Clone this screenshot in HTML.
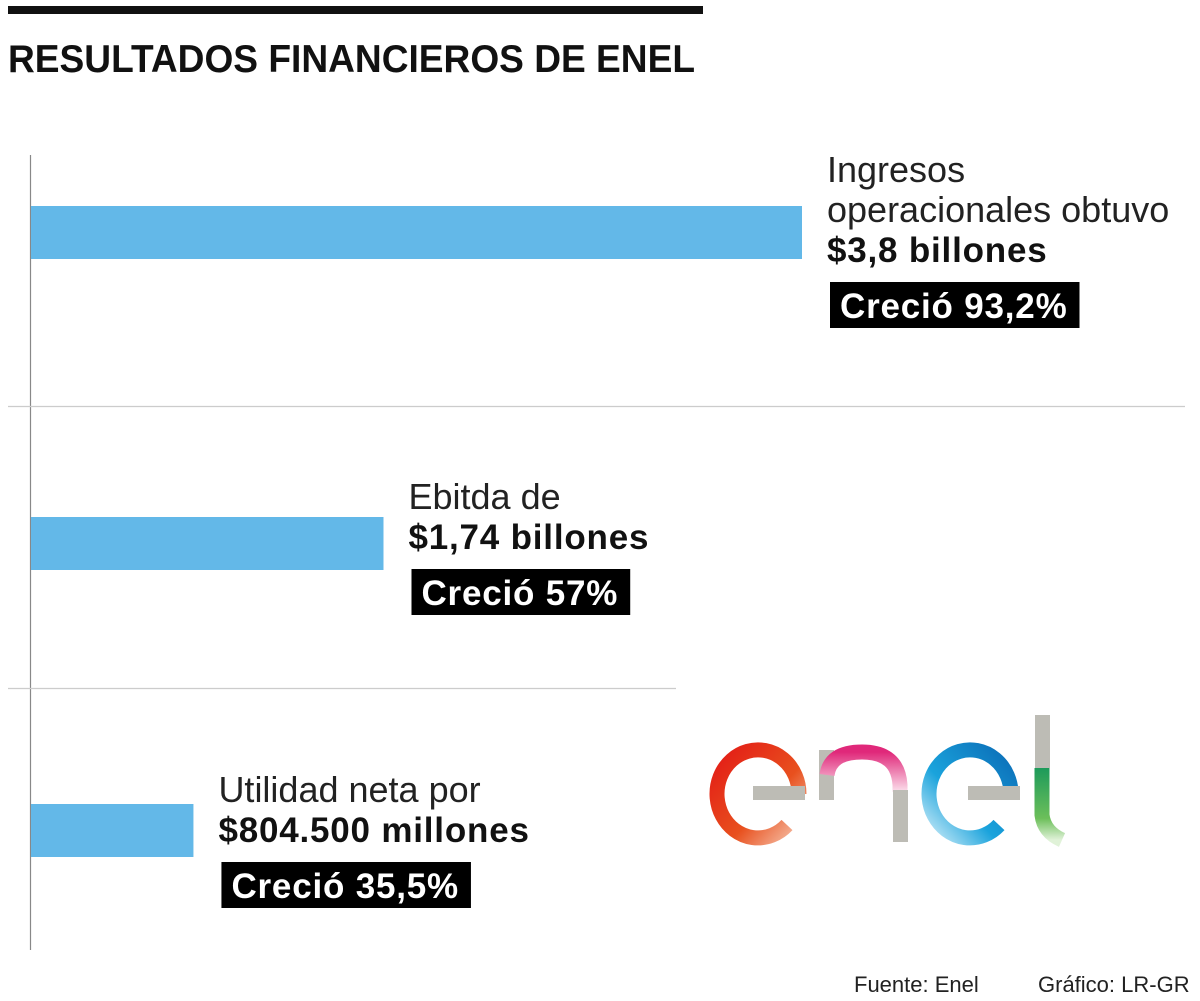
<!DOCTYPE html>
<html><head><meta charset="utf-8"><style>
html,body{margin:0;padding:0;background:#fff;}
svg{display:block;font-family:"Liberation Sans",sans-serif;}
</style></head><body>
<svg id="chart" width="1200" height="1001" viewBox="0 0 1200 1001">
<rect x="8" y="6" width="695" height="8" fill="#111"/>
<text x="8" y="72" font-size="39" font-weight="bold" fill="#111" textLength="687" lengthAdjust="spacingAndGlyphs">RESULTADOS FINANCIEROS DE ENEL</text>
<line x1="30.5" y1="155" x2="30.5" y2="950" stroke="#888" stroke-width="1.2"/>
<line x1="8" y1="406.5" x2="1185" y2="406.5" stroke="#ccc" stroke-width="1.2"/>
<line x1="8" y1="688.5" x2="676" y2="688.5" stroke="#ccc" stroke-width="1.2"/>
<g id="bars"></g>
<g>
  <defs>
    <linearGradient id="gr" x1="0" y1="0" x2="1" y2="1"><stop offset="0" stop-color="#e31b16"/><stop offset="0.6" stop-color="#e8501e"/><stop offset="1" stop-color="#f6c1a8"/></linearGradient>
    <linearGradient id="gp" x1="0" y1="0" x2="0" y2="1"><stop offset="0" stop-color="#e0287a"/><stop offset="1" stop-color="#fbe0ec"/></linearGradient>
    <linearGradient id="gb" x1="1" y1="0" x2="0" y2="1"><stop offset="0" stop-color="#0b6db7"/><stop offset="0.6" stop-color="#1aa3dc"/><stop offset="1" stop-color="#c9ebf8"/></linearGradient>
    <linearGradient id="gg" x1="0" y1="0" x2="0" y2="1"><stop offset="0" stop-color="#1d9a5a"/><stop offset="0.7" stop-color="#6cbf5a"/><stop offset="1" stop-color="#e0f2d8"/></linearGradient>
  </defs>
  <path d="M799 794 A41 44 0 1 0 787 825" fill="none" stroke="url(#gr)" stroke-width="15"/>
  <rect x="753" y="786" width="52" height="14" fill="#bdbcb5"/>
  <rect x="819" y="750" width="15" height="50" fill="#bdbcb5"/>
  <path d="M827 775 Q830 752 862 752 Q898 752 900 785 L900 792" fill="none" stroke="url(#gp)" stroke-width="15"/>
  <rect x="893" y="790" width="15" height="52" fill="#bdbcb5"/>
  <path d="M1011 794 A41 44 0 1 0 999 825" fill="none" stroke="url(#gb)" stroke-width="15"/>
  <rect x="968" y="786" width="52" height="14" fill="#bdbcb5"/>
  <rect x="1035" y="715" width="15" height="53" fill="#bdbcb5"/>
  <path d="M1042 768 L1042 815 Q1044 832 1062 840" fill="none" stroke="url(#gg)" stroke-width="15"/>
</g>
<text x="854" y="992" font-size="22" fill="#222">Fuente: Enel</text>
<text x="1038" y="992" font-size="22" fill="#222">Gráfico: LR-GR</text>
</svg>
<script>
const categories = ["Ingresos operacionales", "Ebitda", "Utilidad neta"];
const values = [3.8, 1.74, 0.8045];
const labelLines = [["Ingresos","operacionales obtuvo"],["Ebitda de"],["Utilidad neta por"]];
const valueLabels = ["$3,8 billones","$1,74 billones","$804.500 millones"];
const growthLabels = ["Creció 93,2%","Creció 57%","Creció 35,5%"];

const NS = "http://www.w3.org/2000/svg";
const x0 = 30, pxPerUnit = 772 / 3.8;
const barTops = [206, 517, 804], barH = 53;
const labelDy = [56, 32, 38];
const xScale = v => x0 + v * pxPerUnit;
const g = document.getElementById("bars");
function mk(tag, attrs){const e=document.createElementNS(NS,tag);for(const k in attrs)e.setAttribute(k,attrs[k]);g.appendChild(e);return e;}
function tw(t,size,bold,ls){const e=mk("text",{x:-1000,y:-1000,"font-size":size,"font-weight":bold?"bold":"normal","letter-spacing":ls});e.textContent=t;const w=e.getComputedTextLength();e.remove();return w;}
categories.forEach((c,i)=>{
  const end = xScale(values[i]);
  const b = mk("rect",{x:x0+1,y:barTops[i],width:end-x0-1,height:barH,fill:"#63b8e8"});
  
  
  const lx = end + 25;
  const lines = labelLines[i];
  const valueBase = barTops[i] + labelDy[i];
  lines.forEach((ln,j)=>{
    const t = mk("text",{x:lx,y:valueBase-40*(lines.length-j),"font-size":36,fill:"#222"});
    t.textContent = ln;
    
    
  });
  const v = mk("text",{x:lx,y:valueBase,"font-size":35,"font-weight":"bold",fill:"#111","letter-spacing":"0.8"});
  v.textContent = valueLabels[i];
  
  
  const w = tw(growthLabels[i],35,true,"0.8");
  const box = mk("rect",{x:lx+3,y:valueBase+20,width:w+22,height:46,fill:"#000"});
  
  
  const gt = mk("text",{x:lx+13,y:valueBase+56,"font-size":35,"font-weight":"bold",fill:"#fff","letter-spacing":"0.8"});
  gt.textContent = growthLabels[i];
  
  
});
</script>
</body></html>
